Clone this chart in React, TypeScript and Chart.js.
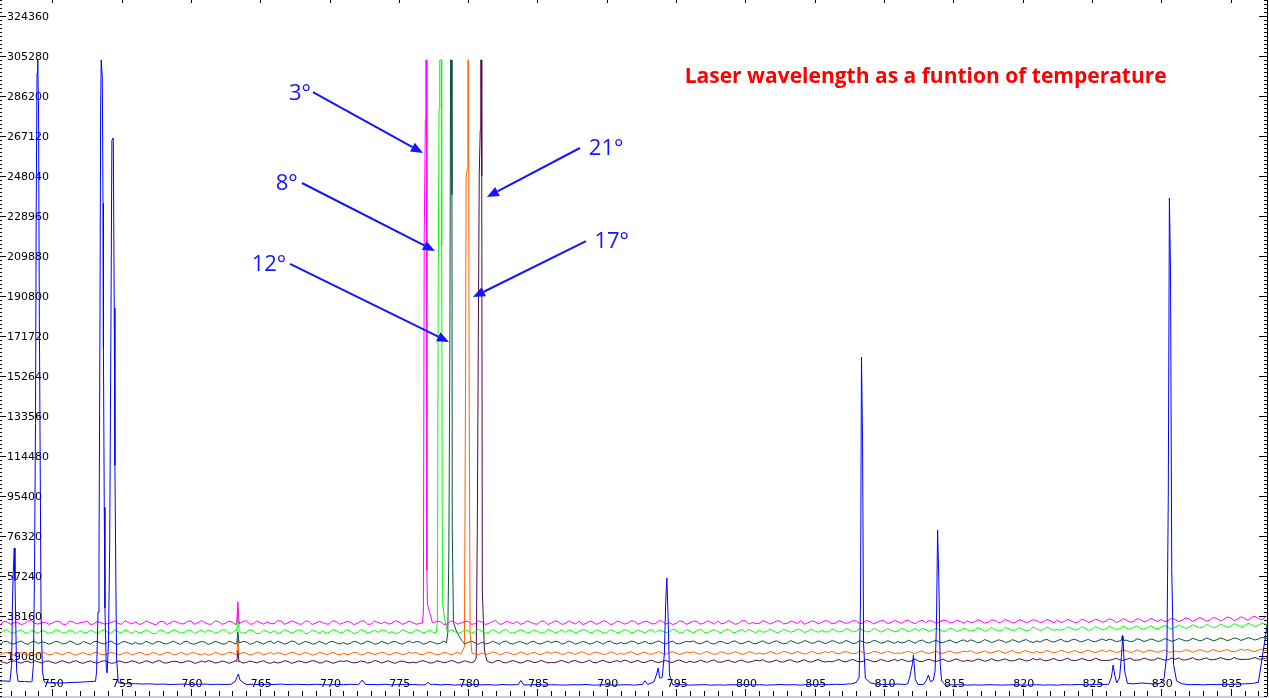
import React, { useEffect, useRef } from "react";
import { Chart, registerables } from "chart.js";

Chart.register(...registerables);

// ---------- axes ----------
const X_MIN = 746.23;
const X_MAX = 837.62;
const Y_MIN = 0;
const Y_MAX = 332000;
const xTickLabels = [750, 755, 760, 765, 770, 775, 780, 785, 790, 795, 800, 805, 810, 815, 820, 825, 830, 835];
const yTickLabels = [19080, 38160, 57240, 76320, 95400, 114480, 133560, 152640, 171720, 190800, 209880, 228960, 248040, 267120, 286200, 305280, 324360];
const xMinorStep = 1;
const yMinorStep = 1908;

// ---------- baselines: samples every 0.5 nm from 746.0 nm, plus in-between samples from 746.25 nm ----------
const GRID_START = 746;
const GRID_STEP = 0.5;

const magentaBase = [
  34800, 35600, 34200, 35100, 34500, 35900, 34300, 35200, 34700, 35500,
  34100, 35300, 34900, 35800, 34400, 35000, 34600, 35700, 34200, 35100,
  35400, 34500, 35200, 34000, 35600, 34800, 35300, 34400, 35800, 34900,
  35100, 34300, 35500, 34700, 35200, 34600, 35900, 34400, 35000, 35400,
  34500, 35700, 34900, 35300, 34200, 35600, 34800, 35100, 34400, 35500,
  34900, 35200, 34600, 35800, 34300, 35000, 35400, 34700, 35300, 34800,
  35000, 34600, 35300, 34900, 35500, 34400, 35200, 34800, 35600, 34500,
  35300, 34700, 35900, 34400, 35100, 35500, 34600, 35200, 34300, 35700,
  34800, 35400, 34500, 35100, 35800, 34600, 35300, 34900, 35500, 34400,
  35200, 34700, 35600, 34900, 35300, 34500, 35700, 35000, 34600, 35400,
  34900, 35500, 34700, 35200, 35800, 34800, 35300, 34600, 35900, 35100,
  34700, 35400, 35000, 35700, 34600, 35300, 35900, 34900, 35500, 35100,
  35600, 34800, 35400, 35100, 35800, 34900, 35500, 35200, 35900, 35000,
  35400, 35800, 35100, 35600, 35000, 35700, 35300, 36000, 35200, 35600,
  35900, 35300, 35700, 35100, 36100, 35400, 35800, 35200, 35900, 35500,
  36000, 35400, 35800, 36200, 35500, 35900, 35300, 36100, 35600, 36000,
  35700, 36300, 35800, 36100, 35600, 36400, 35900, 36200, 36600, 36000,
  36500, 36100, 36700, 36300, 36800, 36200, 37000, 36500, 37300, 36700,
  37100, 37500, 36900, 37600, 37800,
];
const magentaMid = [
  34000, 35300, 34900, 34100, 35800, 34600, 35000, 34200, 35700, 34300,
  35800, 34400, 35200, 34100, 35600, 34300, 35100, 34600, 35900, 34400,
  34200, 35800, 34400, 35500, 34100, 35700, 34500, 35600, 34200, 35900,
  34300, 35800, 34200, 35700, 34000, 35500, 34300, 35800, 34300, 34500,
  35900, 34200, 35800, 34400, 35700, 34100, 35600, 34300, 35900, 34200,
  35600, 34100, 35700, 34200, 35800, 34500, 34300, 35900, 34200, 35700,
  34200, 35800, 34300, 35700, 34100, 35800, 34300, 35600, 34200, 35800,
  34100, 35600, 34300, 35700, 34500, 34200, 35800, 34400, 35700, 34100,
  35900, 34200, 35800, 34300, 34100, 35700, 34200, 35900, 34100, 35700,
  34300, 35800, 34200, 35700, 34400, 35900, 34300, 34100, 35800, 34200,
  35800, 34300, 35900, 34300, 34400, 35900, 34200, 35900, 34300, 34500,
  35900, 34300, 35800, 34400, 35800, 34600, 34200, 35800, 34400, 35900,
  34500, 35900, 34600, 35900, 34500, 36000, 34400, 35900, 34600, 36100,
  34600, 36200, 34500, 36100, 36000, 34700, 36100, 34800, 36200, 34700,
  35000, 36400, 34800, 36300, 34900, 36500, 34900, 36300, 34900, 36400,
  35000, 36500, 34900, 35100, 36600, 35000, 36600, 35100, 36700, 35200,
  36800, 35100, 36900, 35200, 36900, 35300, 37000, 35500, 35400, 37100,
  35500, 37300, 35600, 37400, 35700, 37500, 35800, 37700, 35900, 37800,
  36100, 38000, 36300, 38400,
];

const greenBase = [
  30600, 31200, 30100, 30900, 30300, 31400, 29900, 30700, 30400, 31100,
  30200, 30800, 31300, 30000, 30600, 31000, 30300, 31500, 30100, 30700,
  31100, 30400, 30800, 29800, 31200, 30500, 30900, 30200, 31300, 30600,
  30300, 31000, 30500, 31400, 30100, 30800, 30400, 31100, 29900, 30700,
  31200, 30300, 30900, 30600, 31300, 30000, 30800, 31000, 30400, 31200,
  30500, 30900, 30200, 31100, 30600, 30300, 31400, 30700, 30100, 30900,
  30400, 31000, 30600, 30200, 31200, 30500, 30800, 30300, 31100, 30600,
  31000, 30400, 30800, 31300, 30100, 30700, 31100, 30500, 30900, 30200,
  31200, 30600, 30300, 31000, 30700, 31400, 30400, 30900, 30200, 31100,
  30600, 31300, 30500, 30800, 31100, 30300, 31000, 30600, 31400, 30400,
  30900, 31200, 30500, 31000, 30700, 31300, 30600, 31100, 30400, 30900,
  31400, 30700, 31100, 30600, 31200, 30900, 31500, 30800, 31000, 31300,
  30700, 31200, 30900, 31600, 31000, 31300, 30800, 31500, 31100, 31400,
  31000, 31600, 31200, 30900, 31700, 31300, 31500, 31000, 31800, 31200,
  31600, 31300, 31900, 31400, 31700, 31200, 32000, 31500, 31800, 31400,
  32000, 31600, 32100, 31700, 31900, 32300, 31800, 32200, 31700, 32400,
  32000, 32500, 32100, 32300, 32700, 32200, 32600, 32400, 32900, 32500,
  32800, 33100, 32700, 33300, 32900, 33400, 33000, 33600, 33200, 33800,
  33500, 34000, 33700, 34300, 34700,
];
const greenMid = [
  29700, 31600, 30000, 31500, 29800, 30600, 31400, 29900, 31600, 30000,
  31500, 29700, 30400, 31400, 29800, 31600, 29900, 30600, 31500, 29800,
  30000, 31500, 29700, 31500, 29900, 31600, 30000, 31400, 29800, 31500,
  31400, 29800, 31600, 29900, 31500, 29900, 31600, 29800, 31500, 30000,
  29800, 31600, 30000, 31500, 29700, 31500, 30000, 29900, 31700, 30000,
  31600, 29800, 31600, 29900, 31400, 31500, 30000, 29800, 31600, 30000,
  31600, 30000, 31500, 31400, 29900, 31600, 29900, 31500, 30000, 31700,
  29900, 31600, 30000, 31700, 30000, 31600, 29900, 31500, 30000, 31700,
  30000, 31700, 31400, 30000, 31700, 30100, 31600, 30000, 31700, 30000,
  31700, 30100, 31600, 30100, 31700, 31500, 30200, 31800, 30000, 31700,
  30100, 31800, 30100, 31800, 30200, 31900, 30100, 31700, 31800, 30200,
  30400, 31900, 30200, 31900, 30400, 31900, 30300, 32000, 30400, 30500,
  32000, 30500, 32100, 30500, 32200, 30600, 32200, 30500, 32100, 30600,
  32300, 30700, 32300, 32200, 30800, 32400, 30900, 32500, 30800, 32400,
  31000, 32600, 30900, 32700, 31100, 32800, 31200, 32700, 31100, 32900,
  31300, 32900, 31400, 31300, 33000, 31500, 33100, 31400, 33200, 31600,
  33300, 31700, 33400, 31800, 33500, 31900, 33600, 32000, 33700, 32100,
  33900, 32300, 34000, 32400, 34200, 32600, 34300, 32700, 34500, 32900,
  34700, 33200, 34900, 33600,
];

const tealBase = [
  25400, 25900, 25000, 25600, 25200, 25800, 24900, 25500, 25300, 25700,
  25100, 25600, 24800, 25400, 25900, 25200, 25500, 25000, 25700, 25300,
  25600, 24900, 25400, 25800, 25100, 25500, 25200, 25900, 25000, 25400,
  25700, 25200, 25500, 24900, 25600, 25300, 25800, 25100, 25400, 25700,
  25000, 25500, 25300, 25900, 25200, 25600, 24900, 25400, 25800, 25300,
  25500, 25100, 25700, 25300, 25600, 25000, 25400, 25900, 25200, 25600,
  25300, 25800, 25100, 25500, 25200, 25700, 25400, 25000, 25600, 25300,
  25700, 25200, 25500, 25900, 25100, 25600, 25300, 25800, 25000, 25500,
  25400, 25900, 25200, 25600, 25300, 25700, 25100, 25500, 25800, 25200,
  25600, 25300, 25900, 25400, 25100, 25700, 25300, 25600, 25000, 25500,
  25800, 25300, 25600, 25100, 25700, 25400, 25900, 25300, 25600, 25200,
  25700, 25400, 25900, 25500, 25200, 25800, 25500, 26000, 25400, 25700,
  25600, 26000, 25500, 25800, 25300, 25900, 25600, 26100, 25500, 25800,
  26000, 25600, 25900, 26200, 25700, 26000, 25600, 26100, 25800, 26300,
  25900, 26200, 25800, 26300, 26000, 26400, 25900, 26200, 26500, 26000,
  26300, 26600, 26100, 26400, 26200, 26700, 26300, 26500, 26100, 26600,
  26400, 26700, 26300, 26600, 26200, 26800, 26500, 26700, 26300, 26800,
  26600, 26900, 26500, 27000, 26700, 27100, 26800, 27200, 26900, 27300,
  27100, 27400, 27200, 27600, 28000,
];
const tealMid = [
  24700, 26100, 24800, 26200, 24600, 26000, 25800, 24700, 26100, 24800,
  26200, 24600, 26000, 24700, 26100, 24800, 26200, 24600, 26000, 24700,
  24800, 26100, 24700, 26000, 24800, 26200, 24600, 26100, 24700, 26000,
  24600, 26100, 24800, 26200, 24700, 26000, 24700, 26100, 24800, 26200,
  26100, 24700, 26200, 24600, 26000, 24800, 26100, 24700, 26000, 24800,
  24700, 26100, 24800, 26200, 24700, 26100, 24800, 26000, 24700, 26200,
  26000, 24700, 26100, 24800, 26200, 24700, 26000, 24800, 26100, 24700,
  24800, 26100, 24700, 26200, 24800, 26000, 24700, 26100, 24800, 26200,
  26100, 24800, 26200, 24700, 26000, 24800, 26100, 24700, 26200, 24800,
  24900, 26200, 24800, 26100, 24900, 26300, 24800, 26200, 24900, 26100,
  26200, 24900, 26300, 24800, 26100, 24900, 26300, 24900, 26200, 24900,
  26300, 25000, 26300, 24900, 26400, 25000, 26400, 25100, 26300, 25000,
  26400, 25100, 26500, 25000, 26400, 25200, 26500, 25200, 26400, 25100,
  25300, 26600, 25200, 26700, 25300, 26600, 25400, 26700, 25300, 26800,
  26800, 25400, 26900, 25500, 26800, 25500, 26900, 25600, 26900, 25500,
  25700, 27000, 25700, 27100, 25800, 27100, 25800, 27000, 25900, 27200,
  27100, 25900, 27200, 25900, 27300, 26000, 27200, 26000, 27400, 26100,
  27400, 26200, 27500, 26300, 27600, 26300, 27700, 26400, 27700, 26500,
  27800, 26700, 28000, 27000,
];

const orangeBase = [
  20100, 20500, 19800, 20300, 19900, 20600, 20000, 20400, 19700, 20200,
  20500, 19900, 20300, 20000, 20600, 19800, 20200, 20400, 19900, 20500,
  20100, 20400, 19800, 20300, 20000, 20600, 19900, 20200, 20500, 20000,
  20300, 19800, 20400, 20100, 20600, 19900, 20300, 20000, 20500, 20200,
  19900, 20400, 20100, 20600, 20000, 20300, 19800, 20500, 20200, 20000,
  20400, 20100, 20600, 19900, 20300, 20200, 20500, 20000, 20400, 20100,
  20300, 19900, 20500, 20200, 20000, 20400, 20100, 20600, 20200, 20000,
  20500, 20200, 20700, 20100, 20400, 20000, 20600, 20300, 20100, 20500,
  20200, 20600, 20100, 20400, 20700, 20200, 20500, 20300, 20000, 20600,
  20300, 20700, 20200, 20500, 20100, 20600, 20300, 20800, 20400, 20200,
  20600, 20300, 20800, 20400, 20200, 20700, 20400, 20600, 20200, 20800,
  20500, 20300, 20700, 20500, 20900, 20400, 20600, 20300, 20800, 20500,
  20700, 20400, 20900, 20600, 20300, 20800, 20500, 21000, 20600, 20800,
  20500, 20900, 20700, 21000, 20600, 20800, 20500, 21000, 20700, 20900,
  21100, 20700, 21000, 20800, 21200, 20900, 21100, 20800, 21200, 21000,
  21300, 20900, 21200, 21000, 21300, 21100, 20900, 21400, 21100, 21300,
  21000, 21400, 21200, 21500, 21100, 21300, 21600, 21200, 21400, 21100,
  21500, 21300, 21600, 21400, 21700, 21300, 21500, 21800, 21400, 21600,
  21800, 21500, 21900, 21700, 22300,
];
const orangeMid = [
  19600, 20800, 19500, 20700, 19600, 19800, 20900, 19700, 20800, 19600,
  20800, 19500, 20700, 19600, 20900, 19700, 20800, 19600, 20700, 19500,
  20800, 19600, 20700, 19500, 20800, 19600, 20900, 19700, 20700, 19600,
  19500, 20800, 19600, 20900, 19700, 20800, 19500, 20700, 19600, 20800,
  20700, 19600, 20900, 19700, 20800, 19500, 20800, 19700, 20900, 19600,
  19700, 20900, 19600, 20800, 19700, 20900, 19600, 20800, 19700, 20900,
  20800, 19700, 20900, 19600, 20800, 19700, 20900, 19800, 20900, 19700,
  19800, 21000, 19700, 20900, 19800, 21000, 19700, 20900, 19800, 21000,
  21000, 19800, 20900, 19800, 21100, 19700, 21000, 19900, 21000, 19800,
  19900, 21100, 19800, 21000, 19900, 21200, 19800, 21100, 19900, 21000,
  21100, 19900, 21200, 19900, 21100, 20000, 21200, 19900, 21100, 20000,
  20000, 21200, 20000, 21300, 20100, 21200, 20000, 21300, 20100, 21200,
  21300, 20100, 21200, 20200, 21400, 20100, 21300, 20200, 21400, 20200,
  20300, 21400, 20200, 21500, 20300, 21400, 20300, 21500, 20400, 21400,
  21600, 20400, 21500, 20500, 21600, 20400, 21700, 20500, 21600, 20500,
  20600, 21700, 20600, 21800, 20700, 21700, 20600, 21800, 20700, 21900,
  21800, 20700, 21900, 20800, 22000, 20800, 21900, 20900, 22000, 20900,
  21000, 22100, 20900, 22100, 21000, 22200, 21100, 22100, 21100, 22300,
  22200, 21200, 22400, 21700,
];

const purpleBase = [
  16300, 15900, 16500, 16100, 16400, 15800, 16200, 16600, 16000, 16300,
  16100, 16500, 15900, 16300, 16000, 16400, 16200, 15800, 16500, 16100,
  16400, 16000, 16300, 16600, 15900, 16200, 16400, 16100, 16500, 15900,
  16200, 16500, 16000, 16300, 16100, 16600, 16000, 16300, 16400, 15900,
  16300, 16100, 16500, 16000, 16400, 16200, 16600, 15900, 16300, 16100,
  16500, 16200, 16000, 16400, 16100, 16600, 16300, 16000, 16400, 16200,
  16100, 16500, 16300, 15900, 16400, 16200, 16600, 16100, 16300, 16000,
  16400, 16200, 16700, 16000, 16500, 16300, 16100, 16600, 16200, 16400,
  16000, 16500, 16300, 16700, 16200, 16400, 16000, 16600, 16300, 16500,
  16200, 16700, 16400, 16100, 16600, 16300, 16500, 16200, 16800, 16400,
  16600, 16300, 16500, 16800, 16200, 16600, 16400, 16700, 16300, 16500,
  16800, 16400, 16600, 16300, 16900, 16500, 16700, 16400, 16800, 16600,
  16500, 16900, 16600, 17000, 16700, 16500, 16900, 16600, 17000, 16800,
  16700, 17000, 16800, 16600, 17100, 16900, 17000, 16700, 17200, 16900,
  17100, 16800, 17200, 16900, 17000, 17300, 16900, 17100, 17300, 17000,
  17200, 16900, 17300, 17100, 17400, 17000, 17200, 17400, 17100, 17300,
  17000, 17400, 17200, 17500, 17100, 17300, 17500, 17200, 17600, 17300,
  17500, 17200, 17600, 17400, 17700, 17300, 17600, 17800, 17400, 17700,
  17500, 17800, 17600, 17900, 18300,
];
const purpleMid = [
  16700, 15600, 16800, 15700, 16600, 16900, 15700, 16700, 15600, 16800,
  15700, 16800, 15600, 16700, 15700, 16900, 15600, 16700, 15800, 16800,
  15600, 16800, 15700, 16900, 15700, 16600, 15800, 16800, 15600, 16700,
  16800, 15700, 16700, 15600, 16900, 15700, 16700, 15800, 16800, 15600,
  15700, 16800, 15600, 16700, 15800, 16900, 15700, 16800, 15600, 16700,
  16800, 15800, 16700, 15700, 16900, 15700, 16800, 15600, 16700, 15800,
  15800, 16900, 15700, 16800, 15800, 16900, 15700, 16800, 15900, 16700,
  16900, 15800, 17000, 15800, 16900, 15700, 16900, 15900, 17000, 15800,
  15900, 17000, 15800, 16900, 15900, 17100, 15800, 17000, 15900, 16900,
  17100, 15900, 17000, 16000, 17100, 15900, 17000, 16000, 17200, 15900,
  16000, 17100, 16000, 17200, 16100, 17100, 16000, 17200, 16100, 17100,
  17300, 16100, 17200, 16200, 17300, 16100, 17300, 16200, 17400, 16200,
  16300, 17400, 16200, 17400, 16300, 17500, 16300, 17400, 16400, 17500,
  17500, 16400, 17600, 16400, 17500, 16500, 17600, 16500, 17700, 16500,
  16600, 17700, 16600, 17800, 16700, 17700, 16700, 17800, 16700, 17900,
  17800, 16800, 17900, 16800, 18000, 16900, 17900, 16900, 18000, 16900,
  17000, 18000, 17000, 18100, 17100, 18100, 17100, 18200, 17100, 18100,
  18200, 17200, 18300, 17200, 18200, 17300, 18300, 17300, 18400, 17400,
  17500, 18400, 17600, 18600,
];

const blueBase = [
  7000, 7200, 6800, 7100, 6900, 6700, 6500, 6400, 6300, 6200,
  6300, 6500, 6600, 6800, 7000, 7800, 6400, 6100, 6000, 5800,
  5900, 5700, 5800, 5600, 5700, 5500, 5600, 5700, 5500, 5600,
  5700, 5500, 5600, 5500, 5800, 5700, 5500, 5600, 5400, 5600,
  5500, 5700, 5400, 5600, 5500, 5400, 5600, 5500, 5300, 5500,
  5400, 5600, 5500, 5300, 5500, 5400, 5600, 5300, 5500, 5400,
  5500, 5300, 5400, 5600, 5300, 5500, 5200, 5400, 5300, 5500,
  5300, 5400, 5200, 5500, 5300, 5400, 5200, 5300, 5500, 5200,
  5400, 5300, 5200, 5400, 5300, 5500, 5200, 5300, 5400, 5200,
  5300, 5400, 5200, 5500, 5300, 5500, 5400, 5200, 5300, 5400,
  5200, 5300, 5400, 5200, 5300, 5200, 5400, 5300, 5500, 5300,
  5400, 5200, 5300, 5500, 5300, 5400, 5200, 5500, 5300, 5600,
  5400, 5600, 5500, 5800, 6000, 5900, 5700, 5600, 5500, 5600,
  5700, 5500, 5400, 5500, 5600, 5300, 5400, 5200, 5300, 5400,
  5200, 5300, 5200, 5400, 5300, 5200, 5300, 5400, 5200, 5300,
  5400, 5200, 5300, 5200, 5400, 5300, 5500, 5300, 5400, 5600,
  5500, 5400, 5700, 5500, 5800, 6200, 6000, 5700, 5600, 5500,
  5600, 5500, 5400, 5500, 5300, 5500, 5400, 5600, 5500, 5700,
  5800, 5900, 6500, 28000, 50000,
];
const blueMid: number[] = [];

// ---------- peaks: [wavelength nm, counts] ----------
const magentaPeaks = [
  [[763.31, 35200], [763.39, 45000], [763.47, 35400]],
  [[776.70, 34800], [776.77, 40000], [776.83, 219000], [776.91, 275000], [776.95, 303400], [777.00, 303400],
   [777.02, 60000], [777.06, 44000], [777.21, 40000], [777.42, 35000]],
];
const greenPeaks = [
  [[763.31, 30800], [763.39, 40200], [763.47, 31000]],
  [[777.71, 30500], [777.78, 36000], [777.84, 200000], [777.90, 280000], [777.95, 303400], [778.06, 303400],
   [778.09, 215000], [778.14, 45000], [778.29, 37000], [778.47, 31500]],
];
const tealPeaks = [
  [[763.31, 25500], [763.39, 30500], [763.47, 25600]],
  [[778.43, 25300], [778.53, 30000], [778.61, 70000], [778.68, 170000], [778.73, 303400], [778.80, 303400],
   [778.83, 239000], [778.85, 80000], [778.94, 35000], [779.12, 31500], [779.34, 28500], [779.59, 26000]],
  [[827.10, 26300], [827.20, 29000], [827.30, 26500]],
];
const orangePeaks = [
  [[763.31, 20200], [763.39, 27000], [763.47, 20300]],
  [[779.48, 20000], [779.73, 23500], [779.81, 150000], [779.85, 247000], [779.95, 252000], [779.98, 303400],
   [780.02, 303400], [780.07, 150000], [780.14, 30000], [780.27, 20500]],
];
const purplePeaks = [
  [[763.31, 16300], [763.39, 22000], [763.47, 16200]],
  [[780.42, 16200], [780.58, 18000], [780.66, 80000], [780.73, 170000], [780.80, 249500], [780.87, 270000],
   [780.91, 303400], [780.95, 303400], [780.98, 248000], [781.02, 50000], [781.17, 22000], [781.35, 16800]],
];
const bluePeaks = [
  [[746.95, 7000], [747.07, 15000], [747.13, 45000], [747.18, 58000], [747.26, 70600], [747.31, 55000],
   [747.43, 12000], [747.53, 7000]],
  [[748.54, 7000], [748.64, 15000], [748.72, 60000], [748.79, 130000], [748.84, 230000], [748.90, 297000],
   [748.95, 303400], [749.01, 280000], [749.07, 180000], [749.13, 110000], [749.19, 40000], [749.29, 12000],
   [749.40, 7000]],
  [[753.12, 7000], [753.20, 12000], [753.30, 40000], [753.37, 65000], [753.44, 175000], [753.49, 280000],
   [753.53, 303400], [753.61, 295000], [753.66, 235000], [753.69, 166000], [753.75, 90000], [753.80, 42000],
   [753.90, 13000], [753.96, 11000], [754.05, 25000], [754.14, 70000], [754.23, 175000], [754.30, 265000],
   [754.40, 266200], [754.47, 185000], [754.52, 110000], [754.59, 52000], [754.64, 18000], [754.76, 6500]],
  [[762.90, 5600], [763.20, 7000], [763.35, 9500], [763.42, 10500], [763.55, 7500], [763.90, 5800]],
  [[772.10, 5500], [772.35, 7600], [772.60, 5500]],
  [[776.90, 5300], [777.10, 6500], [777.30, 5400]],
  [[783.60, 5300], [783.80, 7400], [784.00, 5300]],
  [[792.55, 5300], [792.75, 7300], [792.95, 5500], [793.40, 6800], [793.60, 10500], [793.70, 13300],
   [793.82, 8500], [794.00, 9000], [794.15, 20000], [794.25, 45000], [794.33, 56300], [794.42, 38000],
   [794.52, 10000], [794.75, 5400]],
  [[807.60, 5700], [808.00, 6500], [808.20, 9000], [808.30, 45000], [808.37, 161700], [808.45, 120000],
   [808.52, 25000], [808.65, 8500], [809.00, 6300]],
  [[811.70, 5800], [811.85, 9000], [812.05, 15500], [812.12, 19600], [812.25, 8000], [812.45, 5500]],
  [[812.85, 5500], [813.05, 7500], [813.20, 10000], [813.35, 6800], [813.55, 7500], [813.68, 12000],
   [813.78, 35000], [813.86, 79200], [813.95, 55000], [814.05, 15000], [814.15, 7200], [814.40, 5400]],
  [[826.20, 5600], [826.40, 9000], [826.52, 14800], [826.65, 9500], [826.78, 6300], [826.98, 8500],
   [827.12, 19000], [827.22, 28600], [827.35, 12000], [827.55, 6000]],
  [[829.90, 6000], [830.20, 8500], [830.40, 20000], [830.50, 95000], [830.58, 237500], [830.66, 203000],
   [830.75, 60000], [830.88, 15000], [831.10, 7200], [831.50, 5800]],
];

// ---------- annotations ----------
const annotLabels = ["3°", "8°", "12°", "21°", "17°"];
const annotTextX = [767.87, 766.91, 765.63, 789.95, 790.35];
const annotTextY = [284300, 241400, 202500, 258100, 213600];
const arrowFromX = [768.80, 768.01, 767.15, 788.06, 788.50];
const arrowFromY = [288100, 244700, 206100, 261400, 217000];
const arrowToX = [776.74, 777.60, 778.62, 781.35, 780.35];
const arrowToY = [259000, 212300, 168900, 238000, 190300];
const titleText = "Laser wavelength as a funtion of temperature";
const titleX = 795.62;
const titleY = 292400;

const seriesNames = ["Ar lamp", "3°", "8°", "12°", "17°", "21°"];
const seriesColors = ["#0000ff", "#ff00ff", "#00ff00", "#0b5046", "#ff6200", "#4d0a4d"];

type Pt = { x: number; y: number };

function buildSeries(base: number[], mid: number[], peaks: number[][][]): Pt[] {
  const pts: Pt[] = [];
  const inPeak = (x: number) => peaks.some((p) => x >= p[0][0] && x <= p[p.length - 1][0]);
  base.forEach((v, i) => {
    const x = GRID_START + i * GRID_STEP;
    if (!inPeak(x)) pts.push({ x, y: v });
  });
  mid.forEach((v, i) => {
    const x = GRID_START + GRID_STEP / 2 + i * GRID_STEP;
    if (!inPeak(x)) pts.push({ x, y: v });
  });
  peaks.forEach((p) => p.forEach(([x, y]) => pts.push({ x, y })));
  pts.sort((a, b) => a.x - b.x);
  return pts;
}

const framePlugin = {
  id: "frame",
  beforeDatasetsDraw(chart: any) {
    const { ctx, chartArea: a } = chart;
    const xs = chart.scales.x;
    const ys = chart.scales.y;
    ctx.save();
    ctx.fillStyle = "#c7ced8";
    ctx.fillRect(0, a.bottom, chart.width, chart.height - a.bottom);
    ctx.strokeStyle = "#000";
    ctx.lineWidth = 1;
    ctx.beginPath();
    for (let v = Y_MIN; v <= Y_MAX; v += yMinorStep) {
      const y = Math.round(ys.getPixelForValue(v)) + 0.5;
      ctx.moveTo(0, y);
      ctx.lineTo(2, y);
      ctx.moveTo(a.right - 3, y);
      ctx.lineTo(a.right, y);
    }
    yTickLabels.forEach((v) => {
      const y = Math.round(ys.getPixelForValue(v)) + 0.5;
      ctx.moveTo(0, y);
      ctx.lineTo(6, y);
      ctx.moveTo(a.right - 8, y);
      ctx.lineTo(a.right, y);
    });
    ctx.moveTo(a.right + 0.5, a.top);
    ctx.lineTo(a.right + 0.5, a.bottom);
    for (let v = Math.ceil(X_MIN); v <= X_MAX; v += xMinorStep) {
      const x = Math.round(xs.getPixelForValue(v)) + 0.5;
      ctx.moveTo(x, a.bottom - 5);
      ctx.lineTo(x, a.bottom);
    }
    xTickLabels.forEach((v) => {
      const x = Math.round(xs.getPixelForValue(v)) + 0.5;
      ctx.moveTo(x, a.bottom - 7);
      ctx.lineTo(x, a.bottom);
      ctx.moveTo(x, a.top);
      ctx.lineTo(x, a.top + 3);
    });
    ctx.stroke();

    ctx.fillStyle = "#000";
    ctx.font = '11px "DejaVu Sans"';
    ctx.textBaseline = "alphabetic";
    ctx.textAlign = "left";
    yTickLabels.forEach((v) => {
      ctx.fillText(String(v), 7, ys.getPixelForValue(v) + 4);
    });
    ctx.textAlign = "center";
    xTickLabels.forEach((v) => {
      ctx.fillText(String(v), xs.getPixelForValue(v) + 1, a.bottom - 9.5);
    });
    ctx.restore();
  },
  afterDatasetsDraw(chart: any) {
    const { ctx } = chart;
    const xs = chart.scales.x;
    const ys = chart.scales.y;
    ctx.save();
    const blue = "#1414ff";
    ctx.strokeStyle = blue;
    ctx.fillStyle = blue;
    ctx.lineWidth = 2;
    annotLabels.forEach((_, i) => {
      const x1 = xs.getPixelForValue(arrowFromX[i]);
      const y1 = ys.getPixelForValue(arrowFromY[i]);
      const x2 = xs.getPixelForValue(arrowToX[i]);
      const y2 = ys.getPixelForValue(arrowToY[i]);
      const ang = Math.atan2(y2 - y1, x2 - x1);
      const len = 12;
      const half = 5;
      const bx = x2 - len * Math.cos(ang);
      const by = y2 - len * Math.sin(ang);
      ctx.beginPath();
      ctx.moveTo(x1, y1);
      ctx.lineTo(bx, by);
      ctx.stroke();
      ctx.beginPath();
      ctx.moveTo(x2, y2);
      ctx.lineTo(bx + half * Math.sin(ang), by - half * Math.cos(ang));
      ctx.lineTo(bx - half * Math.sin(ang), by + half * Math.cos(ang));
      ctx.closePath();
      ctx.fill();
    });
    ctx.font = '22px "Open Sans"';
    ctx.textAlign = "center";
    ctx.textBaseline = "alphabetic";
    annotLabels.forEach((t, i) => {
      ctx.fillText(t, xs.getPixelForValue(annotTextX[i]), ys.getPixelForValue(annotTextY[i]));
    });
    ctx.fillStyle = "#ff0000";
    ctx.font = 'bold 22px "Open Sans"';
    ctx.textAlign = "left";
    const w = ctx.measureText(titleText).width;
    ctx.translate(xs.getPixelForValue(titleX), ys.getPixelForValue(titleY));
    ctx.scale(482 / w, 1);
    ctx.fillText(titleText, 0, 0);
    ctx.restore();
  },
};

export default function App() {
  const ref = useRef<HTMLCanvasElement>(null);
  useEffect(() => {
    const bases = [blueBase, magentaBase, greenBase, tealBase, orangeBase, purpleBase];
    const mids = [blueMid, magentaMid, greenMid, tealMid, orangeMid, purpleMid];
    const peaks = [bluePeaks, magentaPeaks, greenPeaks, tealPeaks, orangePeaks, purplePeaks];
    const chart = new Chart(ref.current as HTMLCanvasElement, {
      type: "line",
      data: {
        datasets: bases.map((b, i) => ({
          label: seriesNames[i],
          data: buildSeries(b, mids[i], peaks[i]),
          borderColor: seriesColors[i],
          backgroundColor: seriesColors[i],
          borderWidth: 1,
          pointRadius: 0,
          tension: 0,
          fill: false,
        })),
      },
      options: {
        animation: false,
        responsive: false,
        maintainAspectRatio: false,
        devicePixelRatio: 1,
        parsing: false,
        events: [],
        layout: { padding: { left: 0, top: 0, right: 2, bottom: 2 } },
        plugins: {
          legend: { display: false },
          tooltip: { enabled: false },
          title: { display: false },
        },
        scales: {
          x: { type: "linear", min: X_MIN, max: X_MAX, display: false },
          y: { type: "linear", min: Y_MIN, max: Y_MAX, display: false },
        },
      },
      plugins: [framePlugin],
    } as any);
    return () => chart.destroy();
  }, []);
  return (
    <div style={{ position: "absolute", left: 0, top: 0, width: 1269, height: 698, background: "#fff" }}>
      <canvas ref={ref} width={1269} height={698} style={{ display: "block", width: 1269, height: 698 }} />
    </div>
  );
}
